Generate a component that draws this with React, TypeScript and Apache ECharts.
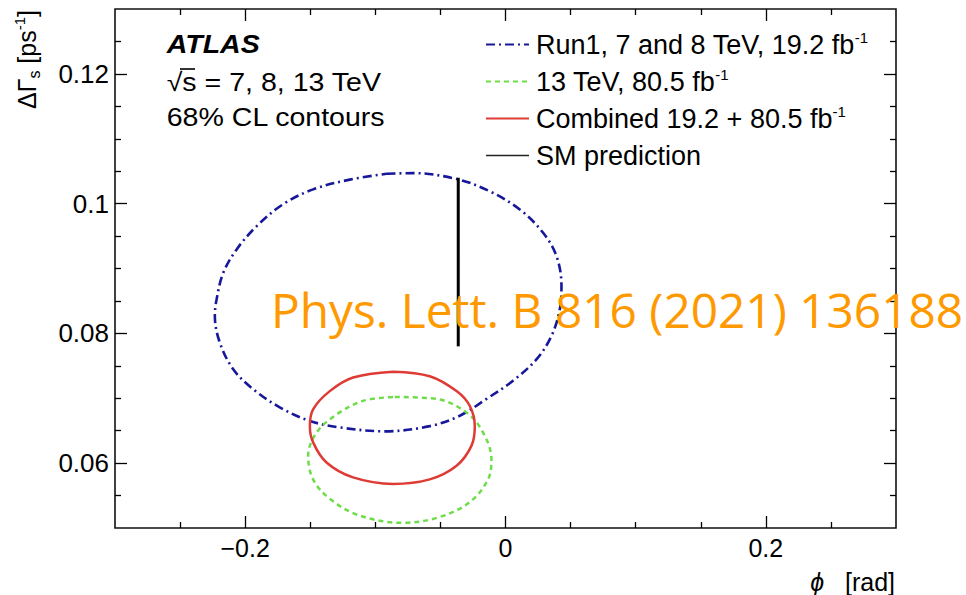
import React, { useEffect, useRef } from "react";
import * as echarts from "echarts";

// 68% CL contours: [phi_s (rad), DeltaGamma_s (ps^-1)]
const run1Contour: [number, number][] = [
  [-0.0914, 0.1046], [-0.071, 0.1047], [-0.0376, 0.1038], [-0.0121, 0.1019],
  [0.011, 0.0991], [0.0289, 0.0955], [0.0392, 0.0919], [0.043, 0.0873],
  [0.0417, 0.0837], [0.0353, 0.0796], [0.0238, 0.076], [0.0058, 0.0727],
  [-0.0146, 0.0699], [-0.0351, 0.0673], [-0.0582, 0.0657], [-0.0927, 0.0649],
  [-0.1273, 0.0655], [-0.1503, 0.0665], [-0.1734, 0.0686], [-0.1939, 0.0714],
  [-0.2093, 0.0745], [-0.2195, 0.0786], [-0.2233, 0.0827], [-0.222, 0.0852],
  [-0.2169, 0.0893], [-0.2067, 0.0929], [-0.1913, 0.0965], [-0.1709, 0.0999],
  [-0.1478, 0.1022], [-0.1196, 0.1037], [-0.0914, 0.1046],
];

const tev13Contour: [number, number][] = [
  [-0.085, 0.0702], [-0.053, 0.0699], [-0.03, 0.0678], [-0.0172, 0.0647],
  [-0.0108, 0.0606], [-0.0134, 0.0575], [-0.0274, 0.054], [-0.0505, 0.0517],
  [-0.0787, 0.0508], [-0.1119, 0.0519], [-0.135, 0.0545], [-0.1478, 0.0575],
  [-0.1516, 0.0611], [-0.1452, 0.0647], [-0.1298, 0.0675], [-0.1094, 0.0696],
  [-0.085, 0.0702],
];

const combinedContour: [number, number][] = [
  [-0.0863, 0.0741], [-0.0582, 0.0734], [-0.0376, 0.0711], [-0.0274, 0.0688],
  [-0.0236, 0.0657], [-0.0261, 0.0627], [-0.0376, 0.0596], [-0.0582, 0.0575],
  [-0.0863, 0.0568], [-0.1171, 0.0578], [-0.1375, 0.0601], [-0.1478, 0.0632],
  [-0.1503, 0.0657], [-0.1478, 0.0683], [-0.135, 0.0711], [-0.1171, 0.0732],
  [-0.0863, 0.0741],
];

const smPrediction: [number, number][] = [
  [-0.0363, 0.078],
  [-0.0363, 0.104],
];

const seriesNames = [
  "Run1, 7 and 8 TeV, 19.2 fb-1",
  "13 TeV, 80.5 fb-1",
  "Combined 19.2 + 80.5 fb-1",
  "SM prediction",
];

const xRange = [-0.3, 0.3];
const yRange = [0.05, 0.13];
const xMajorTicks = [-0.2, 0, 0.2];
const xMinorTicks = [-0.25, -0.15, -0.1, -0.05, 0.05, 0.1, 0.15, 0.25];
const yMajorTicks = [0.06, 0.08, 0.1, 0.12];
const yMinorTicks = [0.055, 0.065, 0.07, 0.075, 0.085, 0.09, 0.095, 0.105, 0.11, 0.115, 0.125];

const FONT = '"Liberation Sans", Arial, Helvetica, sans-serif';
const BLUE = "#17179a";
const GREEN = "#6fdc4a";
const RED = "#de3b35";

function fmtTick(v: number) {
  if (v === 0) return "0";
  return v < 0 ? "\u2212" + String(Math.abs(v)) : String(v);
}

function buildOption() {
  const tickStyle = { color: "#000", width: 1.3 };
  const xBase = {
    type: "value",
    min: xRange[0],
    max: xRange[1],
    splitLine: { show: false },
    axisLine: { show: false, onZero: false },
  };
  const yBase = {
    type: "value",
    min: yRange[0],
    max: yRange[1],
    splitLine: { show: false },
    axisLine: { show: false, onZero: false },
  };
  return {
    animation: false,
    backgroundColor: "#fff",
    grid: {
      left: 115,
      top: 9,
      width: 781,
      height: 520,
      show: true,
      borderColor: "#111",
      borderWidth: 1.6,
      backgroundColor: "transparent",
    },
    xAxis: [
      {
        ...xBase,
        position: "bottom",
        axisTick: { inside: true, length: 12, customValues: xMajorTicks, lineStyle: tickStyle },
        axisLabel: {
          customValues: xMajorTicks,
          formatter: fmtTick,
          fontSize: 25,
          fontFamily: FONT,
          color: "#000",
          margin: 7,
        },
        name: "{i|\u03d5}   [rad]",
        nameLocation: "end",
        nameGap: -1,
        nameTextStyle: {
          fontSize: 25,
          fontFamily: FONT,
          color: "#000",
          align: "right",
          verticalAlign: "middle",
          lineHeight: 26,
          padding: [108, 0, 0, 0],
          rich: { i: { fontStyle: "italic", fontSize: 25, fontFamily: FONT, color: "#000", lineHeight: 26 } },
        },
      },
      {
        ...xBase,
        position: "bottom",
        axisTick: { inside: true, length: 6, customValues: xMinorTicks, lineStyle: tickStyle },
        axisLabel: { show: false },
      },
      {
        ...xBase,
        position: "top",
        axisTick: { inside: true, length: 12, customValues: xMajorTicks, lineStyle: tickStyle },
        axisLabel: { show: false },
      },
      {
        ...xBase,
        position: "top",
        axisTick: { inside: true, length: 6, customValues: xMinorTicks, lineStyle: tickStyle },
        axisLabel: { show: false },
      },
    ],
    yAxis: [
      {
        ...yBase,
        position: "left",
        axisTick: { inside: true, length: 12, customValues: yMajorTicks, lineStyle: tickStyle },
        axisLabel: {
          customValues: yMajorTicks,
          formatter: fmtTick,
          fontSize: 26,
          fontFamily: FONT,
          color: "#000",
          margin: 6,
        },
      },
      {
        ...yBase,
        position: "left",
        axisTick: { inside: true, length: 6, customValues: yMinorTicks, lineStyle: tickStyle },
        axisLabel: { show: false },
      },
      {
        ...yBase,
        position: "right",
        axisTick: { inside: true, length: 12, customValues: yMajorTicks, lineStyle: tickStyle },
        axisLabel: { show: false },
      },
      {
        ...yBase,
        position: "right",
        axisTick: { inside: true, length: 6, customValues: yMinorTicks, lineStyle: tickStyle },
        axisLabel: { show: false },
      },
    ],
    legend: {
      orient: "vertical",
      left: 480,
      top: 24.5,
      itemWidth: 43,
      itemHeight: 14,
      itemGap: 7,
      selectedMode: false,
      itemStyle: { opacity: 0 },
      data: [
        { name: seriesNames[0] },
        { name: seriesNames[1] },
        { name: seriesNames[2] },
        { name: seriesNames[3], lineStyle: { width: 1.5, color: "#222" } },
      ],
      formatter: (name: string) => name.replace(/-1$/, "{sup|-1}"),
      textStyle: {
        fontSize: 27,
        fontFamily: FONT,
        color: "#000",
        lineHeight: 30,
        padding: [0, 0, 0, 2],
        rich: {
          sup: { fontSize: 15, fontFamily: FONT, color: "#000", verticalAlign: "top", lineHeight: 18 },
        },
      },
    },
    series: [
      {
        name: seriesNames[0],
        type: "line",
        data: run1Contour,
        smooth: 0.35,
        showSymbol: false,
        symbol: "none",
        lineStyle: { color: BLUE, width: 2.6, type: [9, 4, 2, 4] },
        itemStyle: { color: BLUE },
        z: 3,
      },
      {
        name: seriesNames[1],
        type: "line",
        data: tev13Contour,
        smooth: 0.35,
        showSymbol: false,
        symbol: "none",
        lineStyle: { color: GREEN, width: 2.5, type: [5, 4] },
        itemStyle: { color: GREEN },
        z: 3,
      },
      {
        name: seriesNames[2],
        type: "line",
        data: combinedContour,
        smooth: 0.35,
        showSymbol: false,
        symbol: "none",
        lineStyle: { color: RED, width: 2.5, type: "solid" },
        itemStyle: { color: RED },
        z: 3,
      },
      {
        name: seriesNames[3],
        type: "line",
        data: smPrediction,
        showSymbol: false,
        symbol: "none",
        lineStyle: { color: "#000", width: 3 },
        itemStyle: { color: "#000" },
        z: 3,
      },
    ],
    graphic: [
      {
        type: "text",
        x: 166.7,
        y: 44.2,
        scaleX: 1.12,
        z: 10,
        style: {
          text: "ATLAS",
          fontSize: 25.5,
          fontWeight: "bold",
          fontStyle: "italic",
          fontFamily: FONT,
          fill: "#000",
          align: "left",
          verticalAlign: "middle",
        },
      },
      {
        type: "text",
        x: 166.7,
        y: 82.5,
        scaleX: 1.12,
        z: 10,
        style: {
          text: "\u221as = 7, 8, 13 TeV",
          fontSize: 25.5,
          fontFamily: FONT,
          fill: "#000",
          align: "left",
          verticalAlign: "middle",
        },
      },
      {
        type: "line",
        z: 10,
        shape: { x1: 180, y1: 69, x2: 195, y2: 69 },
        style: { stroke: "#000", lineWidth: 1.6 },
      },
      {
        type: "text",
        x: 166.7,
        y: 116.7,
        scaleX: 1.12,
        z: 10,
        style: {
          text: "68% CL contours",
          fontSize: 25.5,
          fontFamily: FONT,
          fill: "#000",
          align: "left",
          verticalAlign: "middle",
        },
      },
      {
        type: "text",
        x: 27,
        y: 10,
        rotation: Math.PI / 2,
        z: 10,
        style: {
          text: "{t|\u0394\u0393}{sub|s}{t| [ps}{sup|-1}{t|]}",
          align: "right",
          verticalAlign: "middle",
          rich: {
            t: { fontSize: 25, fontFamily: FONT, fill: "#000", lineHeight: 30 },
            sub: { fontSize: 16, fontFamily: FONT, fill: "#000", lineHeight: 22, verticalAlign: "bottom" },
            sup: { fontSize: 15, fontFamily: FONT, fill: "#000", lineHeight: 18, verticalAlign: "top" },
          },
        },
      },
      {
        type: "text",
        x: 271,
        y: 309.5,
        z: 20,
        style: {
          text: "Phys. Lett. B 816 (2021) 136188",
          fontSize: 47.8,
          fontFamily: '"Open Sans", "Noto Sans", sans-serif',
          fill: "#ff9900",
          align: "left",
          verticalAlign: "middle",
        },
      },
    ],
  };
}

export default function App() {
  const ref = useRef<HTMLDivElement>(null);
  useEffect(() => {
    if (!ref.current) return;
    const chart = echarts.init(ref.current, null, { renderer: "svg" });
    chart.setOption(buildOption() as any);
    return () => chart.dispose();
  }, []);
  return (
    <div
      ref={ref}
      style={{ position: "absolute", left: 0, top: 0, width: 966, height: 595, background: "#fff" }}
    />
  );
}
